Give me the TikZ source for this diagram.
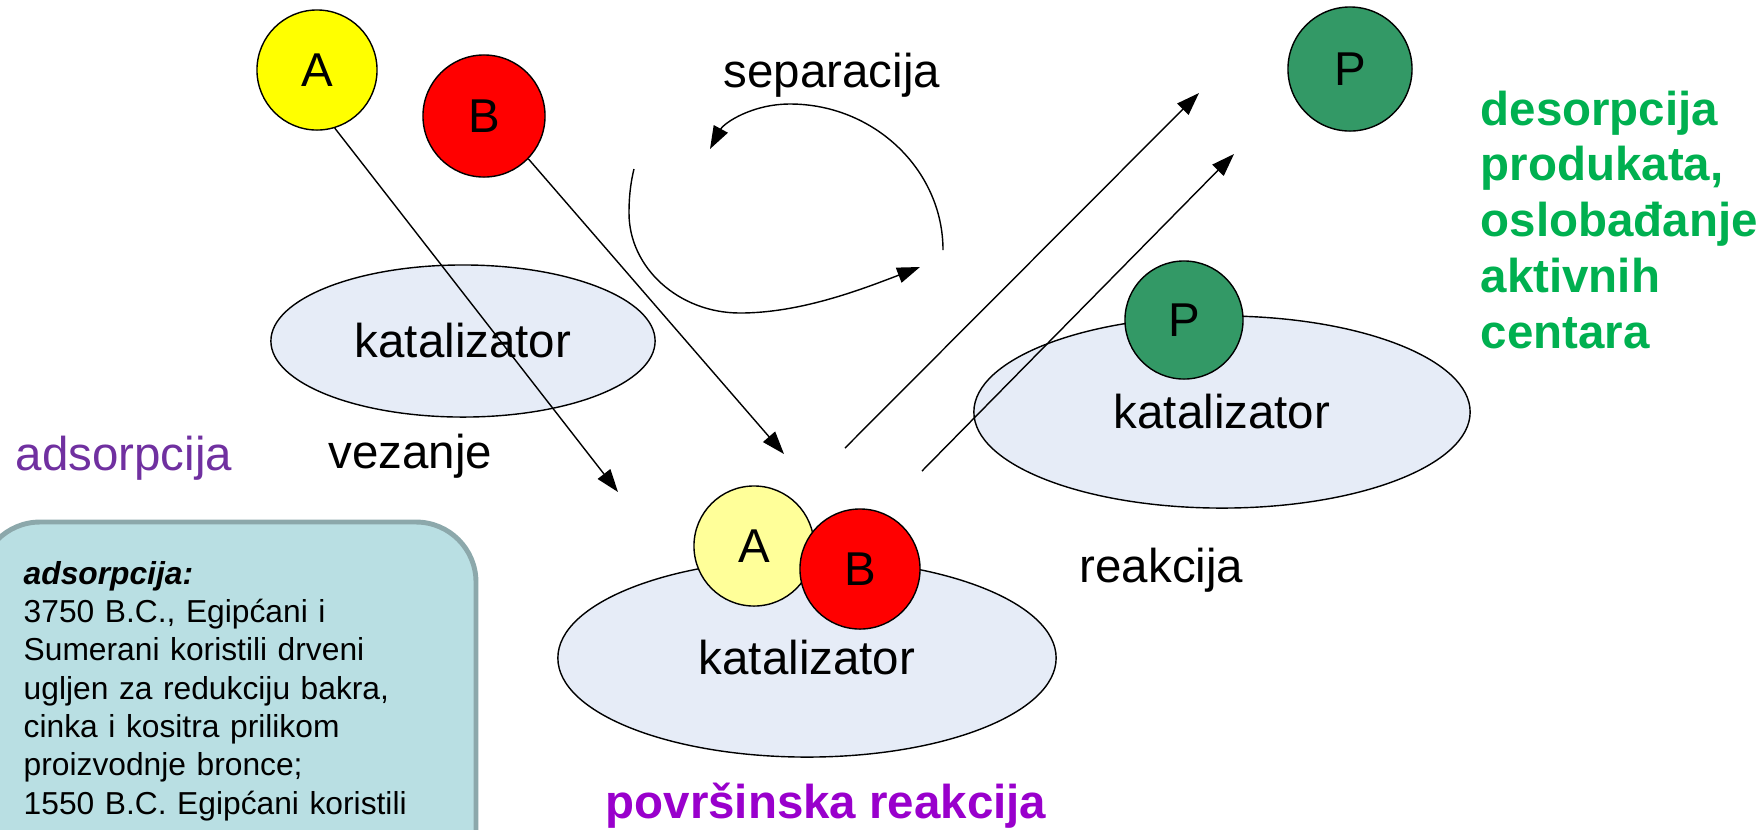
\documentclass[tikz,border=0pt]{standalone}
\usepackage{fontspec}
\setmainfont{Liberation Sans}
\usetikzlibrary{shapes.geometric,arrows.meta}
\definecolor{ayellow}{HTML}{FFFF00}
\definecolor{alight}{HTML}{FFFF99}
\definecolor{bred}{HTML}{FF0000}
\definecolor{pgreen}{HTML}{339966}
\definecolor{catfill}{HTML}{E6ECF7}
\definecolor{txtgreen}{HTML}{00B050}
\definecolor{purpA}{HTML}{7030A0}
\definecolor{purpB}{HTML}{9900CC}
\definecolor{boxfill}{HTML}{B9DFE3}
\definecolor{boxline}{HTML}{8CA8AB}
\newcommand\mainf{\fontsize{13.5}{15.86}\selectfont}
\newcommand\boxf{\fontsize{9.03}{10.9}\selectfont}
\begin{document}
\begin{tikzpicture}[x=0.01cm,y=-0.01cm,
  ball/.style={circle,draw=black,line width=0.4pt,inner sep=0pt,font=\mainf},
  cat/.style={ellipse,draw=black,line width=0.4pt,fill=catfill,inner sep=0pt,font=\mainf},
  conn/.style={-{Triangle[length=6.5pt,width=4.5pt]},line width=0.4pt},
  lbl/.style={inner sep=0pt,font=\mainf,anchor=base west}]
\useasboundingbox (0,0) rectangle (1763,829);
% catalyst ellipses
\node[cat,minimum width=3.84cm,minimum height=1.52cm] (k1) at (463,341) {katalizator};
\node[cat,minimum width=4.96cm,minimum height=1.92cm] (k2) at (1222,412) {katalizator};
\node[cat,minimum width=4.98cm,minimum height=1.98cm] (k3) at (807,658) {katalizator};
% molecules
\node[ball,fill=ayellow,minimum size=1.2cm] (A) at (317,70) {A};
\node[ball,fill=bred,minimum size=1.22cm] (B) at (484,116) {B};
\node[ball,fill=pgreen,minimum size=1.24cm] (P) at (1350,69) {P};
\node[ball,fill=pgreen,minimum size=1.18cm] (P2) at (1184,320) {P};
\node[ball,fill=alight,minimum size=1.2cm] (A2) at (754,546) {A};
\node[ball,fill=bred,minimum size=1.2cm] (B2) at (860,569) {B};
% arrows
\coordinate (tA) at (618,492);
\coordinate (tB) at (784,454);
\draw[conn] (A.-73) -- (tA);
\draw[conn] (B.-44) -- (tB);
\coordinate (r1s) at (845,448);
\coordinate (r1e) at (1199,93);
\coordinate (r2s) at (922,471);
\coordinate (r2e) at (1234,154);
\draw[conn] (r1s) -- (r1e);
\draw[conn] (r2s) -- (r2e);
% separation loop
\coordinate (s1) at (634,169);
\coordinate (s2) at (629,213);
\coordinate (s3) at (740,313);
\coordinate (s4) at (920,267);
\coordinate (u1) at (943,250);
\coordinate (u2) at (790,104);
\coordinate (u3) at (710,149);
\draw[conn] (s1) .. controls (630,185) and (629,200) .. (s2)
  .. controls (629,268) and (679,313) .. (s3)
  .. controls (800,313) and (860,290) .. (s4);
\draw[conn] (u1) .. controls (943,170) and (874,104) .. (u2)
  .. controls (752,104) and (724,123) .. (u3);
% labels
\node[lbl] (sep) at (723,87) {separacija};
\node[lbl] (vez) at (328,468) {vezanje};
\node[lbl] (rea) at (1079,582) {reakcija};
\node[lbl,text=purpA] (ads) at (15,470) {adsorpcija};
\node[lbl,text=purpB,font=\mainf\bfseries] (pov) at (605,818) {površinska reakcija};
\node[lbl,text=txtgreen,font=\mainf\bfseries,text width=3.2cm,align=left] (des) at (1480,125)
  {desorpcija\\produkata,\\oslobađanje\\aktivnih\\centara};
% info box
\draw[fill=boxfill,draw=boxline,line width=1.4pt,rounded corners=0.6cm] (-20,522) rectangle (476,950);
\node[lbl,font=\boxf,text width=4.5cm,align=left] (info) at (23,584)
  {\textbf{\textit{adsorpcija:}}\\
   3750 B.C., Egipćani i\\
   Sumerani koristili drveni\\
   ugljen za redukciju bakra,\\
   cinka i kositra prilikom\\
   proizvodnje bronce;\\
   1550 B.C. Egipćani koristili};
\end{tikzpicture}
\end{document}
